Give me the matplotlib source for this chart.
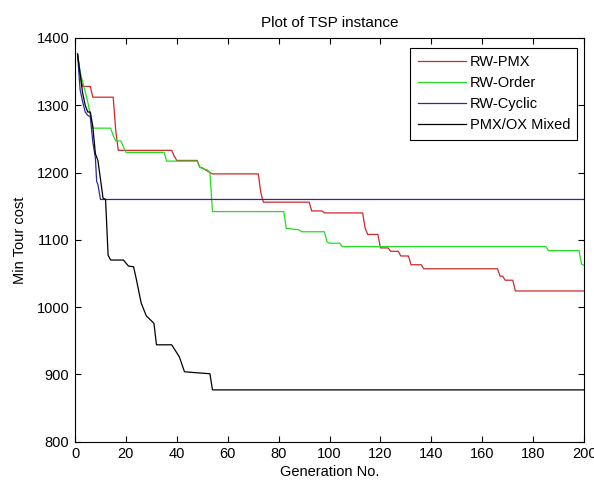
import matplotlib
matplotlib.use("Agg")
import matplotlib.pyplot as plt

plt.rcParams['font.family'] = ['Liberation Sans', 'DejaVu Sans']

# (generation, min tour cost) vertices
pmx_gen = [1, 2, 3, 6, 7, 15, 16, 17, 38, 39, 40, 48, 49, 50, 53, 54, 72, 73, 74,
           92, 93, 97, 98, 113, 114, 115, 119, 120, 123, 124, 127, 128, 131, 132,
           136, 137, 166, 167, 168, 169, 172, 173, 200]
pmx_cost = [1376, 1345, 1328, 1328, 1312, 1312, 1262, 1233, 1233, 1224, 1218, 1218,
            1208, 1207, 1200, 1198, 1198, 1170, 1156, 1156, 1143, 1143, 1140, 1140,
            1117, 1108, 1108, 1088, 1088, 1083, 1083, 1076, 1076, 1063, 1063, 1057,
            1057, 1046, 1046, 1040, 1040, 1024, 1024]

order_gen = [1, 2, 3, 4, 5, 6, 7, 14, 15, 16, 18, 19, 20, 35, 36, 48, 49, 50, 52,
             53, 54, 82, 83, 88, 89, 98, 99, 100, 104, 105, 185, 186, 198, 199, 200]
order_cost = [1376, 1350, 1335, 1320, 1305, 1285, 1266, 1266, 1255, 1247, 1247,
              1238, 1230, 1230, 1217, 1217, 1208, 1206, 1204, 1200, 1142, 1142,
              1117, 1115, 1112, 1112, 1097, 1095, 1095, 1090, 1090, 1084, 1084,
              1064, 1062]

cyclic_gen = [1, 2, 3, 4, 5, 6, 7, 8, 8.5, 9, 10, 200]
cyclic_cost = [1376, 1323, 1305, 1290, 1285, 1283, 1245, 1222, 1187, 1182, 1160,
               1160]

mixed_gen = [1, 2, 3, 4, 5, 6, 7, 8, 9, 10, 11, 12, 13, 14, 19, 21, 23, 24, 26,
             28, 31, 32, 38, 41, 43, 46, 53, 54, 200]
mixed_cost = [1376, 1347, 1318, 1300, 1290, 1290, 1268, 1228, 1218, 1190, 1162,
              1160, 1077, 1070, 1070, 1061, 1060, 1043, 1006, 987, 976, 944, 944,
              926, 904, 903, 901, 877, 877]

series = [
    ('RW-PMX', pmx_gen, pmx_cost, '#cc2a2a'),
    ('RW-Order', order_gen, order_cost, '#22dd22'),
    ('RW-Cyclic', cyclic_gen, cyclic_cost, '#2a2a9a'),
    ('PMX/OX Mixed', mixed_gen, mixed_cost, '#000000'),
]

fs = 10.5

fig = plt.figure(figsize=(5.94, 4.82), dpi=100)
ax = fig.add_axes([0.1263, 0.0836, 0.857, 0.8376])

for name, g, c, col in series:
    ax.plot(g, c, color=col, linewidth=0.9, label=name)

ax.set_xlim(0, 200)
ax.set_ylim(800, 1400)
ax.set_xticks(range(0, 201, 20))
ax.set_yticks(range(800, 1401, 100))
ax.tick_params(direction='in', top=True, right=True, length=4.5, width=0.8,
               labelsize=fs, pad=4)
for s in ax.spines.values():
    s.set_linewidth(0.8)

ax.set_title('Plot of TSP instance', fontsize=11, pad=8)
ax.set_xlabel('Generation No.', fontsize=fs, labelpad=3)
ax.set_ylabel('Min Tour cost', fontsize=fs, labelpad=7)

leg = ax.legend(loc='upper right', bbox_to_anchor=(0.987, 0.976),
                borderaxespad=0, fancybox=False, framealpha=1, edgecolor='black',
                fontsize=fs, handlelength=3.3, handletextpad=0.27,
                labelspacing=0.49, borderpad=0.5)
leg.get_frame().set_linewidth(0.8)

fig.savefig('out.png', dpi=100)
